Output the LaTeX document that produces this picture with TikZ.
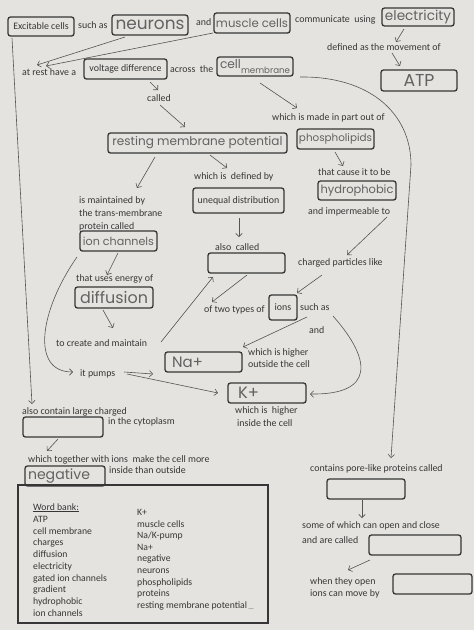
\documentclass[tikz,border=0pt]{standalone}
\usepackage{fontspec}
\setmainfont{Carlito}
\newfontfamily\handfont{Poppins}
\usetikzlibrary{arrows.meta,calc}
\definecolor{paper}{HTML}{E4E3DF}
\definecolor{ink}{HTML}{363636}
\definecolor{pen}{HTML}{626262}
\newcommand\hw[2]{\resizebox{#1}{!}{\handfont #2}}
\begin{document}
\begin{tikzpicture}[x=1pt,y=-1pt,
  txt/.style={text=ink,font=\fontsize{9.9}{11}\selectfont,inner sep=0pt,anchor=base west},
  bx/.style={draw=ink,line width=1.3pt,rounded corners=2.5pt,inner sep=0pt,text=pen},
  pbx/.style={bx,text=ink,font=\fontsize{9.9}{11}\selectfont},
  arr/.style={draw=ink!85,line width=0.6pt,-{Straight Barb[length=3.2pt,width=6.5pt]}},
  wb/.style={txt,font=\fontsize{9.7}{11}\selectfont}]
\fill[paper] (0,0) rectangle (474,630);
\useasboundingbox (0,0) rectangle (474,630);

% ---------- boxes ----------
\node[pbx,minimum width=66pt,minimum height=19pt] (exc) at (41,26.5) {Excitable cells};
\node[bx,minimum width=76pt,minimum height=20pt] (neur) at (150,25) {\hw{69pt}{neurons}};
\node[bx,minimum width=76pt,minimum height=20pt] (musc) at (252,23) {\hw{72pt}{muscle cells}};
\node[bx,minimum width=72pt,minimum height=18pt] (elec) at (418,17) {\hw{66pt}{electricity}};
\node[bx,minimum width=76pt,minimum height=21pt] (atp) at (419,80.5) {\hw{31pt}{ATP}};
\node[pbx,minimum width=83pt,minimum height=20pt] (volt) at (125.5,69) {voltage difference};
\node[bx,minimum width=76pt,minimum height=19pt] (cellm) at (255,66.5) {\raisebox{2pt}{\hw{21pt}{cell}}\raisebox{-3pt}{\hw{49pt}{membrane}}};
\node[bx,minimum width=179pt,minimum height=20pt] (rmp) at (197.5,143) {\hw{170pt}{resting membrane potential}};
\node[bx,minimum width=77pt,minimum height=20pt] (phos) at (335.5,139) {\hw{73pt}{phospholipids}};
\node[bx,minimum width=78pt,minimum height=19pt] (hydro) at (357,190.5) {\hw{73pt}{hydrophobic}};
\node[pbx,minimum width=91pt,minimum height=25pt] (uneq) at (238.5,200.5) {unequal distribution};
\node[bx,minimum width=77pt,minimum height=20pt] (alsoc) at (246.5,263) {};
\node[pbx,minimum width=28pt,minimum height=25pt] (ions) at (283,307.5) {ions};
\node[bx,minimum width=77pt,minimum height=20pt] (ionch) at (118.5,241) {\hw{71pt}{ion channels}};
\node[bx,minimum width=78pt,minimum height=21pt] (diff) at (114,297.5) {\hw{68pt}{diffusion}};
\node[bx,minimum width=77pt,minimum height=20pt] (na) at (203.5,362) {\makebox[77pt][l]{\hspace{7pt}\hw{31pt}{Na+}}};
\node[bx,minimum width=78pt,minimum height=20pt] (k) at (267,393) {\makebox[78pt][l]{\hspace{10pt}\hw{21pt}{K+}}};
\node[bx,minimum width=80pt,minimum height=20pt] (large) at (63,427) {};
\node[bx,minimum width=80pt,minimum height=20pt] (neg) at (65,476) {\makebox[80pt][l]{\hspace{3pt}\hw{62pt}{negative}}};
\node[bx,minimum width=78pt,minimum height=20pt] (pore) at (366,489) {};
\node[bx,minimum width=92pt,minimum height=20pt] (gated) at (415,545) {};
\node[bx,minimum width=79pt,minimum height=20pt] (grad) at (432.5,584) {};

% ---------- printed texts ----------
\node[txt] (suchas1) at (78,28.5) {such as};
\node[txt] (and1) at (196,25.5) {and};
\node[txt] (comm) at (295,22.5) {communicate\ \ using};
\node[txt] (defn) at (327,50.5) {defined as the movement of};
\node[txt] (rest) at (22,75.5) {at rest have a};
\node[txt] (across) at (170,72.5) {across\ \ the};
\node[txt] (called) at (147,101.5) {called};
\node[txt] (made) at (272,120.5) {which is made in part out of};
\node[txt] (cause) at (318,175.5) {that cause it to be};
\node[txt] (imperm) at (308,214.5) {and impermeable to};
\node[txt] (defby) at (194,179.5) {which is\ \ defined by};
\node[txt] (maint1) at (79,203.5) {is maintained by};
\node[txt] (maint2) at (79,216.5) {the trans-membrane};
\node[txt] (maint3) at (79,229.5) {protein called};
\node[txt] (alsocalled) at (215,250.5) {also\ \ called};
\node[txt] (charged) at (298,265.5) {charged particles like};
\node[txt] (oftwo) at (204,312.5) {of two types of};
\node[txt] (suchas2) at (300,310.5) {such as};
\node[txt] (and2) at (309,333.5) {and};
\node[txt] (energy) at (76,281.5) {that uses energy of};
\node[txt] (create) at (56,346.5) {to create and maintain};
\node[txt] (pumps) at (80,376.5) {it pumps};
\node[txt] (higher1) at (248,355) {which is higher};
\node[txt] (outside) at (248,367) {outside the cell};
\node[txt] (higher2) at (235,413.5) {which is\ \ higher};
\node[txt] (inside) at (237,426.5) {inside the cell};
\node[txt] (largech) at (22,414.5) {also contain large charged};
\node[txt] (cyto) at (108,424.5) {in the cytoplasm};
\node[txt] (together) at (28,462.5) {which together with ions\ \ make the cell more};
\node[txt] (insideout) at (109,473.5) {inside than outside};
\node[txt] (porel) at (310,471.5) {contains pore-like proteins called};
\node[txt] (some) at (302,528.5) {some of which can open and close};
\node[txt] (arecalled) at (302,543) {and are called};
\node[txt] (whenopen) at (310,584) {when they open};
\node[txt] (canmove) at (310,596.5) {ions can move by};

% ---------- word bank ----------
\draw[draw=ink,line width=1.2pt] (18,485) rectangle (268,623);
\node[wb] (wbt) at (33,510) {\underline{Word bank:}};
\foreach \w [count=\i from 0] in {ATP,cell membrane,charges,diffusion,electricity,gated ion channels,gradient,hydrophobic,ion channels}
  \node[wb] (wl\i) at (33,{522.5+11.7*\i}) {\w};
\foreach \w [count=\i from 0] in {K+,muscle cells,Na/K-pump,Na+,negative,neurons,phospholipids,proteins,{resting membrane potential\,\raisebox{0pt}{\tiny\_\_}}}
  \node[wb] (wr\i) at (137,{515.5+11.6*\i}) {\w};

% ---------- connectors ----------
\draw[arr] ($(neur)+(-25,12)$) -- ($(rest.base west)+(15,-10.5)$);
\draw[arr] ($(musc)+(-39,10)$) -- ($(rest.base west)+(24,-9.5)$);
\draw[arr] ($(exc)+(-29,11.5)$) -- ($(largech.base west)+(10,-10.5)$);
\draw[arr] ($(elec)+(-14,12)$) -- ($(defn.base west)+(69,-8.5)$);
\draw[arr] ($(defn.base west)+(65,2.5)$) -- ($(atp)+(-19,-14.5)$);
\draw[arr] ($(volt)+(24.5,13)$) -- ($(called.base west)+(11,-11.5)$);
\draw[arr] ($(called.base west)+(13,3.5)$) -- ($(rmp)+(-12.5,-16)$);
\draw[arr] ($(cellm)+(5,16.5)$) -- ($(made.base west)+(25,-12.5)$);
\draw[arr] ($(cellm)+(45,10.5)$) .. controls (368,76) and (411,112) .. (411,165) -- ($(porel.base west)+(81,-13.5)$);
\draw[arr] ($(phos)+(-0.5,13)$) -- ($(cause.base west)+(25,-9.5)$);
\draw[arr] ($(imperm.base west)+(79,2.5)$) -- ($(charged.base west)+(49,-10.5)$);
\draw[arr] ($(charged.base west)+(24,9.5)$) -- ($(ions)+(14,-14.5)$);
\draw[arr] ($(suchas2.base west)+(7,6.5)$) -- ($(na)+(39.5,-15)$);
\draw[arr] ($(suchas2.base west)+(33,5.5)$) .. controls (372,360) and (375,395) .. ($(k)+(43,1)$);
\draw[arr] ($(rmp)+(12.5,12)$) -- ($(defby.base west)+(33,-11.5)$);
\draw[arr] ($(uneq)+(0.5,17.5)$) -- ($(alsocalled.base west)+(24,-13.5)$);
\draw[arr] ($(alsoc)+(0.5,12)$) -- ($(oftwo.base west)+(8,-10.5)$);
\draw[arr] ($(create.base west)+(105,-4.5)$) -- ($(alsoc)+(-33.5,14)$);
\draw[arr] ($(rmp)+(-42.5,14)$) -- ($(maint1.base west)+(58,-15.5)$);
\draw[arr] ($(ionch)+(-0.5,12)$) -- ($(energy.base west)+(31,-6.5)$);
\draw[arr] ($(ionch)+(-41.5,16)$) .. controls (40,310) and (30,372) .. ($(pumps.base west)+(-7,-4.5)$);
\draw[arr] ($(diff)+(-11,12.5)$) -- ($(create.base west)+(57,-18.5)$);
\draw[arr] ($(pumps.base west)+(44,-4.5)$) -- ($(na)+(-50.5,12)$);
\draw[arr] ($(pumps.base west)+(47,-2.5)$) -- ($(k)+(-49,0)$);
\draw[arr] ($(large)+(-5,12)$) -- ($(together.base west)+(19,-11.5)$);
\draw[arr] ($(pore)+(-4,11)$) -- ($(some.base west)+(60,-10.5)$);
\draw[arr] ($(gated)+(-45,15)$) -- ($(whenopen.base west)+(38,-14)$);
\end{tikzpicture}
\end{document}
